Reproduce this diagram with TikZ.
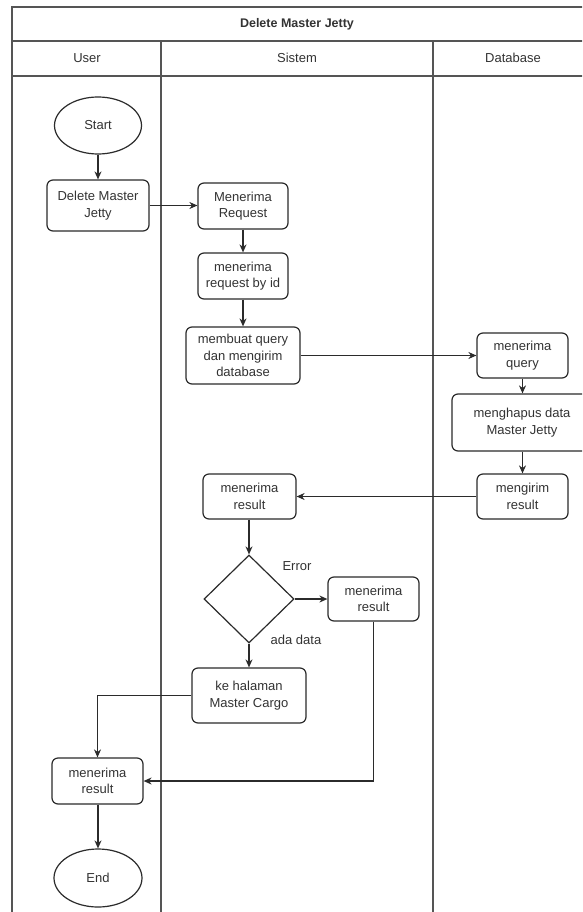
\documentclass[tikz,border=0pt]{standalone}
\usepackage{fontspec}
\setmainfont{Liberation Sans}
\usetikzlibrary{shapes.geometric,arrows.meta}
\definecolor{lane}{HTML}{555555}
\definecolor{ink}{HTML}{2B2B2B}
\definecolor{txt}{HTML}{333333}
\tikzset{
  every node/.style={font=\fontsize{13}{16.5}\selectfont, text=txt},
  lanes/.style={draw=lane, line width=1.5pt},
  actbox/.style={draw=ink, line width=1.2pt, rounded corners=6pt, fill=white,
    align=center, inner sep=1pt},
  term/.style={draw=ink, line width=1.2pt, ellipse, fill=white, inner sep=0pt},
  decision/.style={draw=ink, line width=1.2pt, diamond, fill=white, inner sep=0pt},
  flow/.style={draw=ink, line width=1.2pt, -{Stealth[length=8pt,width=7pt]}},
  lbl/.style={inner sep=0pt}
}
\begin{document}
\begin{tikzpicture}[x=1pt,y=-1pt]
\useasboundingbox (0,0) rectangle (582,912);
\clip (0,0) rectangle (582,912);
\fill[white] (0,0) rectangle (582,912);

% swimlane frame
\draw[lanes] (12,912) -- (12,7) -- (590,7);
\draw[lanes] (12,41) -- (590,41);
\draw[lanes] (12,76) -- (590,76);
\draw[lanes] (161,41) -- (161,912);
\draw[lanes] (433,41) -- (433,912);

% titles
\node[font=\bfseries\fontsize{12.5}{16}\selectfont] (title) at (297,24) {Delete Master Jetty};
\node (hUser) at (87,58) {User};
\node (hSistem) at (297,58) {Sistem};
\node (hDb) at (513,58) {Database};

% activities
\node[term, minimum width=87pt, minimum height=57pt] (start) at (98,125.5) {Start};
\node[actbox, minimum width=102pt, minimum height=51pt] (del) at (98,205.5) {Delete Master\\Jetty};
\node[actbox, minimum width=90pt, minimum height=46pt] (mreq) at (243,206) {Menerima\\Request};
\node[actbox, minimum width=90pt, minimum height=46pt] (mreqid) at (243,276) {menerima\\request by id};
\node[actbox, minimum width=114pt, minimum height=57pt] (mq) at (243,355.5) {membuat query\\dan mengirim\\database};
\node[actbox, minimum width=91pt, minimum height=45pt] (dbq) at (522.5,355.5) {menerima\\query};
\node[actbox, minimum width=140pt, minimum height=57pt] (hapus) at (522,422.5) {menghapus data\\Master Jetty};
\node[actbox, minimum width=91pt, minimum height=45pt] (kirim) at (522.5,496.5) {mengirim\\result};
\node[actbox, minimum width=93pt, minimum height=45pt] (mres) at (249.5,496.5) {menerima\\result};
\node[decision, minimum width=90pt, minimum height=88pt] (dec) at (249,599) {};
\node[actbox, minimum width=91pt, minimum height=44pt] (err) at (373.5,599) {menerima\\result};
\node[actbox, minimum width=114pt, minimum height=55pt] (ke) at (249,695.5) {ke halaman\\Master Cargo};
\node[actbox, minimum width=91pt, minimum height=46pt] (ures) at (97.5,781) {menerima\\result};
\node[term, minimum width=88pt, minimum height=58pt] (end) at (98,878) {End};

% guard labels
\node[lbl] (lErr) at (297,566) {Error};
\node[lbl] (lAda) at (296,640) {ada data};

% connectors
\draw[flow] (start) -- (del);
\draw[flow] (del.east) -- (del.east -| mreq.west);
\draw[flow] (mreq) -- (mreqid);
\draw[flow] (mreqid) -- (mq);
\draw[flow] (mq.east) -- (dbq.west);
\draw[flow] (dbq.south) -- (dbq.south |- hapus.north);
\draw[flow] (hapus.south -| kirim.north) -- (kirim.north);
\draw[flow] (kirim.west) -- (mres.east);
\draw[flow] (mres.south -| dec.north) -- (dec.north);
\draw[flow] (dec.east) -- (err.west);
\draw[flow] (dec.south) -- (ke.north);
\draw[flow] (ke.west) -| (ures.north);
\draw[flow] (err.south) |- (ures.east);
\draw[flow] (ures.south -| end.north) -- (end.north);
\end{tikzpicture}
\end{document}
